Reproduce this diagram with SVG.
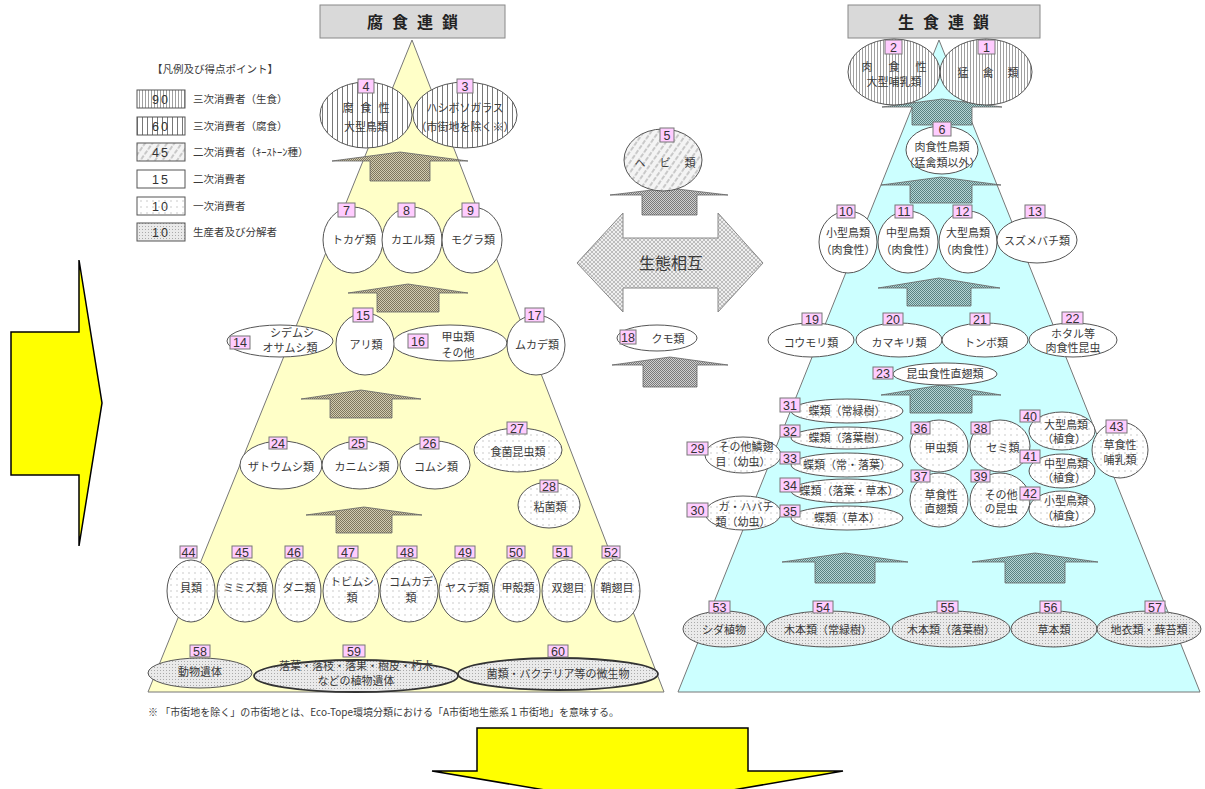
<svg xmlns="http://www.w3.org/2000/svg" width="1205" height="789" viewBox="0 0 1205 789">
<style>
.t{font-family:"Noto Sans CJK JP","Noto Sans",sans-serif;font-size:11px;fill:#3a3a3a;text-anchor:middle}
.lg{font-family:"Noto Sans CJK JP","Noto Sans",sans-serif;font-size:10.5px;fill:#3a3a3a}
.n{font-family:"Liberation Sans",Arial,sans-serif;font-size:12.5px;fill:#333;text-anchor:middle}
.lb{fill:#ffccff;stroke:#777;stroke-width:1}
.e{stroke:#555;stroke-width:1}
.w{fill:#fff}
.dl{fill:url(#dotL)}
.dd{fill:url(#dotD)}
.ti{font-family:"Noto Sans CJK JP","Noto Sans",sans-serif;font-size:16px;font-weight:bold;fill:#222;text-anchor:middle;letter-spacing:9px}
.ua{stroke:#666;stroke-width:0.8}
</style>
<defs>
<pattern id="vs1" width="5" height="5" patternUnits="userSpaceOnUse"><rect width="5" height="5" fill="#fff"/><line x1="2.5" y1="0" x2="2.5" y2="5" stroke="#555" stroke-width="0.8"/></pattern>
<pattern id="vs2" width="3" height="3" patternUnits="userSpaceOnUse"><rect width="3" height="3" fill="#fff"/><line x1="1.5" y1="0" x2="1.5" y2="3" stroke="#777" stroke-width="0.7"/></pattern>
<pattern id="diag" width="6" height="6" patternUnits="userSpaceOnUse" patternTransform="rotate(-55)"><rect width="6" height="6" fill="#f4f4f4"/><line x1="0" y1="3" x2="6" y2="3" stroke="#888" stroke-width="0.8" stroke-dasharray="3,1.5"/></pattern>
<pattern id="dotL" width="6" height="6" patternUnits="userSpaceOnUse"><rect width="6" height="6" fill="#fff"/><rect x="2.5" y="2.5" width="1" height="1" fill="#999"/></pattern>
<pattern id="dotD" width="3" height="3" patternUnits="userSpaceOnUse"><rect width="3" height="3" fill="#eaeaea"/><rect x="1" y="1" width="1" height="1" fill="#aaa"/></pattern>
<pattern id="chkL" width="2" height="2" patternUnits="userSpaceOnUse"><rect width="2" height="2" fill="#d2cbb0"/><rect width="1" height="1" fill="#7e775e"/><rect x="1" y="1" width="1" height="1" fill="#7e775e"/></pattern>
<pattern id="chkR" width="2" height="2" patternUnits="userSpaceOnUse"><rect width="2" height="2" fill="#b5d5d5"/><rect width="1" height="1" fill="#5a8282"/><rect x="1" y="1" width="1" height="1" fill="#5a8282"/></pattern>
<pattern id="chkC" width="2" height="2" patternUnits="userSpaceOnUse"><rect width="2" height="2" fill="#d0d0d0"/><rect width="1" height="1" fill="#7a7a7a"/><rect x="1" y="1" width="1" height="1" fill="#7a7a7a"/></pattern>
<pattern id="chkB" width="4" height="4" patternUnits="userSpaceOnUse"><rect width="4" height="4" fill="#efefef"/><path d="M0,0 L4,4 M4,0 L0,4" stroke="#a8a8a8" stroke-width="0.7"/></pattern>
</defs>

<rect width="1205" height="789" fill="#fff"/>

<g id="pyramids">
<polygon points="412,40 148,692 664,692" fill="#ffffc8" stroke="#777" stroke-width="1"/>
<polygon points="939,40 678,692 1200,692" fill="#ccffff" stroke="#777" stroke-width="1"/>
</g>

<g id="title-left"><rect x="320" y="5" width="185" height="33" fill="#d9d9d9" stroke="#888"/><text x="417" y="28" class="ti">腐食連鎖</text></g>
<g id="title-right"><rect x="848" y="5" width="192" height="33" fill="#d9d9d9" stroke="#888"/><text x="948" y="28" class="ti">生食連鎖</text></g>

<g id="legend">
<text x="152" y="73" class="lg">【凡例及び得点ポイント】</text>
<rect x="137" y="90" width="48" height="18" fill="url(#vs2)" stroke="#555"/><text x="161" y="104" class="n" letter-spacing="2">90</text><text x="193" y="103" class="lg">三次消費者（生食）</text>
<rect x="137" y="117" width="48" height="18" fill="url(#vs1)" stroke="#555"/><text x="161" y="131" class="n" letter-spacing="2">60</text><text x="193" y="130" class="lg">三次消費者（腐食）</text>
<rect x="137" y="143" width="48" height="18" fill="url(#diag)" stroke="#555"/><text x="161" y="157" class="n" letter-spacing="2">45</text><text x="193" y="156" class="lg">二次消費者（ｷｰｽﾄｰﾝ種）</text>
<rect x="137" y="170" width="48" height="18" fill="#fff" stroke="#555"/><text x="161" y="184" class="n" letter-spacing="2">15</text><text x="193" y="183" class="lg">二次消費者</text>
<rect x="137" y="197" width="48" height="18" fill="url(#dotL)" stroke="#555"/><text x="161" y="211" class="n" letter-spacing="2">10</text><text x="193" y="210" class="lg">一次消費者</text>
<rect x="137" y="223" width="48" height="18" fill="url(#dotD)" stroke="#555"/><text x="161" y="237" class="n" letter-spacing="2">10</text><text x="193" y="236" class="lg">生産者及び分解者</text>
</g>

<g id="connectors">
<path class="ua" fill="url(#chkL)" d="M332,161 L400,152 L468,161 L430,161 L430,181 L370,181 L370,161 Z"/>
<path class="ua" fill="url(#chkL)" d="M348,293 L408,284 L468,293 L439,293 L439,312 L377,312 L377,293 Z"/>
<path class="ua" fill="url(#chkL)" d="M301,399 L361,390 L421,399 L392,399 L392,418 L330,418 L330,399 Z"/>
<path class="ua" fill="url(#chkL)" d="M306,515 L364,507 L422,515 L392,515 L392,533 L336,533 L336,515 Z"/>
<path class="ua" fill="url(#chkC)" d="M610,195 L669,188 L728,195 L697,195 L697,215 L642,215 L642,195 Z"/>
<path class="ua" fill="url(#chkC)" d="M612,365 L670,357 L728,365 L697,365 L697,387 L643,387 L643,365 Z"/>
<path class="ua" fill="url(#chkR)" d="M882,107 L942,99 L1002,107 L972,107 L972,125 L912,125 L912,107 Z"/>
<path class="ua" fill="url(#chkR)" d="M881,185 L941,177 L1001,185 L972,185 L972,203 L910,203 L910,185 Z"/>
<path class="ua" fill="url(#chkR)" d="M878,288 L939,278 L1000,288 L971,288 L971,306 L907,306 L907,288 Z"/>
<path class="ua" fill="url(#chkR)" d="M881,395 L941,385 L1001,395 L972,395 L972,413 L910,413 L910,395 Z"/>
<path class="ua" fill="url(#chkR)" d="M782,562 L845,553 L908,562 L875,562 L875,583 L815,583 L815,562 Z"/>
<path class="ua" fill="url(#chkR)" d="M972,562 L1035,553 L1098,562 L1065,562 L1065,583 L1005,583 L1005,562 Z"/>
<g id="mutual">
<path d="M577,263 L623,213 L623,238 L718,238 L718,213 L763,263 L718,312 L718,288 L623,288 L623,312 Z" fill="url(#chkB)" stroke="#888" stroke-width="1"/>
<text x="671" y="269" class="t" style="font-size:16px">生態相互</text>
</g>
</g>

<g id="n4"><ellipse cx="366" cy="115" rx="46" ry="33" class="e" fill="url(#vs1)"/><rect x="358" y="79" width="16" height="14" class="lb"/><text x="366" y="90.5" class="n">4</text><text x="369.5" y="112" class="t" letter-spacing="7">腐食性</text><text x="366" y="131" class="t">大型鳥類</text></g>
<g id="n3"><ellipse cx="465" cy="115" rx="52" ry="33" class="e" fill="url(#vs1)"/><rect x="457" y="79" width="16" height="14" class="lb"/><text x="465" y="90.5" class="n">3</text><text x="465" y="112" class="t">ハシボソガラス</text><text x="465" y="131" class="t">（市街地を除く※）</text></g>
<g id="n2"><ellipse cx="894" cy="72" rx="46" ry="33" class="e" fill="url(#vs2)"/><rect x="885" y="40" width="17" height="14" class="lb"/><text x="893.5" y="51.5" class="n">2</text><text x="902" y="71" class="t" letter-spacing="16">肉食性</text><text x="894" y="86" class="t">大型哺乳類</text></g>
<g id="n1"><ellipse cx="986" cy="72" rx="46" ry="33" class="e" fill="url(#vs2)"/><rect x="978" y="40" width="17" height="14" class="lb"/><text x="986.5" y="51.5" class="n">1</text><text x="995" y="77" class="t" letter-spacing="14">猛禽類</text></g>
<g id="n5"><ellipse cx="663" cy="160" rx="39" ry="31" class="e" fill="url(#diag)"/><rect x="660" y="128" width="14" height="14" class="lb"/><text x="667" y="139.5" class="n">5</text><text x="672" y="167" class="t" letter-spacing="14">ヘビ類</text></g>
<g id="n6"><ellipse cx="942" cy="150" rx="36" ry="24" class="e w"/><rect x="933" y="122" width="18" height="14" class="lb"/><text x="942" y="133.5" class="n">6</text><text x="942" y="151" class="t">肉食性鳥類</text><text x="942" y="167" class="t">（猛禽類以外）</text></g>

<g id="n7"><ellipse cx="353" cy="240" rx="30" ry="33" class="e w"/><rect x="338" y="203" width="17" height="14" class="lb"/><text x="346.5" y="214.5" class="n">7</text><text x="354" y="244" class="t">トカゲ類</text></g>
<g id="n8"><ellipse cx="412" cy="240" rx="30" ry="33" class="e w"/><rect x="398" y="203" width="17" height="14" class="lb"/><text x="406.5" y="214.5" class="n">8</text><text x="413" y="244" class="t">カエル類</text></g>
<g id="n9"><ellipse cx="472" cy="240" rx="30" ry="33" class="e w"/><rect x="462" y="203" width="17" height="14" class="lb"/><text x="470.5" y="214.5" class="n">9</text><text x="473" y="244" class="t">モグラ類</text></g>

<g id="n14"><ellipse cx="280" cy="341" rx="53" ry="16" class="e w"/><rect x="230" y="336" width="20" height="13" class="lb"/><text x="240" y="347" class="n">14</text><text x="292" y="337" class="t">シデムシ</text><text x="290" y="352" class="t">オサムシ類</text></g>
<g id="n16"><ellipse cx="450" cy="343" rx="57" ry="18" class="e w"/><rect x="408" y="334" width="20" height="14" class="lb"/><text x="418" y="345.5" class="n">16</text><text x="458" y="341" class="t">甲虫類</text><text x="458" y="357" class="t">その他</text></g>
<g id="n15"><ellipse cx="365" cy="344" rx="29" ry="31" class="e w"/><rect x="353" y="308" width="20" height="14" class="lb"/><text x="363" y="319.5" class="n">15</text><text x="366" y="349" class="t">アリ類</text></g>
<g id="n17"><ellipse cx="536" cy="345" rx="29" ry="30" class="e w"/><rect x="525" y="308" width="19" height="14" class="lb"/><text x="534.5" y="319.5" class="n">17</text><text x="537" y="349" class="t">ムカデ類</text></g>

<g id="n18"><ellipse cx="657" cy="338" rx="40" ry="13" class="e w"/><rect x="620" y="330" width="16" height="14" class="lb"/><text x="628" y="341.5" class="n">18</text><text x="668" y="343" class="t">クモ類</text></g>

<g id="n24"><ellipse cx="281" cy="465" rx="41" ry="24" class="e w"/><rect x="269" y="437" width="18" height="12" class="lb"/><text x="278" y="447.5" class="n">24</text><text x="281" y="471" class="t">ザトウムシ類</text></g>
<g id="n25"><ellipse cx="360" cy="465" rx="38" ry="24" class="e w"/><rect x="349" y="437" width="18" height="12" class="lb"/><text x="358" y="447.5" class="n">25</text><text x="362" y="471" class="t">カニムシ類</text></g>
<g id="n26"><ellipse cx="435" cy="465" rx="35" ry="24" class="e w"/><rect x="420" y="437" width="19" height="12" class="lb"/><text x="429.5" y="447.5" class="n">26</text><text x="436" y="471" class="t">コムシ類</text></g>
<g id="n27"><ellipse cx="518" cy="450" rx="44" ry="22" class="e dl"/><rect x="507" y="422" width="20" height="12" class="lb"/><text x="517" y="432.5" class="n">27</text><text x="518" y="456" class="t">食菌昆虫類</text></g>
<g id="n28"><ellipse cx="549" cy="505" rx="31" ry="23" class="e dl"/><rect x="540" y="480" width="18" height="12" class="lb"/><text x="549" y="490.5" class="n">28</text><text x="550" y="511" class="t">粘菌類</text></g>

<g id="n10"><ellipse cx="848" cy="242" rx="29" ry="31" class="e w"/><rect x="837" y="205" width="18" height="13" class="lb"/><text x="846" y="216" class="n">10</text><text x="848" y="237" class="t">小型鳥類</text><text x="848" y="254" class="t">（肉食性）</text></g>
<g id="n11"><ellipse cx="908" cy="242" rx="30" ry="31" class="e w"/><rect x="895" y="205" width="18" height="13" class="lb"/><text x="904" y="216" class="n">11</text><text x="908" y="237" class="t">中型鳥類</text><text x="908" y="254" class="t">（肉食性）</text></g>
<g id="n12"><ellipse cx="968" cy="242" rx="29" ry="31" class="e w"/><rect x="953" y="205" width="19" height="13" class="lb"/><text x="962.5" y="216" class="n">12</text><text x="968" y="237" class="t">大型鳥類</text><text x="968" y="254" class="t">（肉食性）</text></g>
<g id="n13"><ellipse cx="1037" cy="240" rx="40" ry="23" class="e w"/><rect x="1025" y="205" width="20" height="13" class="lb"/><text x="1035" y="216" class="n">13</text><text x="1037" y="245" class="t">スズメバチ類</text></g>

<g id="n19"><ellipse cx="811" cy="340" rx="43" ry="17" class="e w"/><rect x="802" y="313" width="20" height="12" class="lb"/><text x="812" y="323.5" class="n">19</text><text x="811" y="347" class="t">コウモリ類</text></g>
<g id="n20"><ellipse cx="899" cy="340" rx="43" ry="17" class="e w"/><rect x="883" y="313" width="20" height="12" class="lb"/><text x="893" y="323.5" class="n">20</text><text x="899" y="347" class="t">カマキリ類</text></g>
<g id="n21"><ellipse cx="985" cy="340" rx="43" ry="17" class="e w"/><rect x="970" y="313" width="20" height="12" class="lb"/><text x="980" y="323.5" class="n">21</text><text x="986" y="347" class="t">トンボ類</text></g>
<g id="n22"><ellipse cx="1073" cy="340" rx="44" ry="17" class="e w"/><rect x="1062" y="312" width="21" height="12" class="lb"/><text x="1072.5" y="322.5" class="n">22</text><text x="1073" y="338" class="t">ホタル等</text><text x="1073" y="352" class="t">肉食性昆虫</text></g>
<g id="n23"><ellipse cx="945" cy="374" rx="52" ry="11" class="e w"/><rect x="873" y="367" width="20" height="12" class="lb"/><text x="883" y="377.5" class="n">23</text><text x="945" y="378" class="t">昆虫食性直翅類</text></g>

<g id="n29"><ellipse cx="743" cy="455" rx="38" ry="18" class="e dl"/><rect x="687" y="442" width="21" height="13" class="lb"/><text x="697.5" y="453" class="n">29</text><text x="746" y="451" class="t">その他鱗翅</text><text x="743" y="466" class="t">目（幼虫）</text></g>
<g id="n30"><ellipse cx="743" cy="513" rx="38" ry="17" class="e dl"/><rect x="687" y="503" width="21" height="14" class="lb"/><text x="697.5" y="514.5" class="n">30</text><text x="746" y="511" class="t">ガ・ハバチ</text><text x="743" y="526" class="t">類（幼虫）</text></g>
<g id="n31"><ellipse cx="847" cy="411" rx="56" ry="12" class="e dl"/><rect x="780" y="398" width="20" height="14" class="lb"/><text x="790" y="409.5" class="n">31</text><text x="847" y="415" class="t">蝶類（常緑樹）</text></g>
<g id="n32"><ellipse cx="847" cy="438" rx="56" ry="11" class="e dl"/><rect x="780" y="425" width="20" height="12" class="lb"/><text x="790" y="435.5" class="n">32</text><text x="847" y="442" class="t">蝶類（落葉樹）</text></g>
<g id="n33"><ellipse cx="847" cy="465" rx="56" ry="12" class="e dl"/><rect x="780" y="452" width="20" height="12" class="lb"/><text x="790" y="462.5" class="n">33</text><text x="847" y="469" class="t">蝶類（常・落葉）</text></g>
<g id="n34"><ellipse cx="847" cy="491" rx="56" ry="12" class="e dl"/><rect x="780" y="478" width="20" height="14" class="lb"/><text x="790" y="489.5" class="n">34</text><text x="849" y="495" class="t">蝶類（落葉・草本）</text></g>
<g id="n35"><ellipse cx="847" cy="518" rx="56" ry="12" class="e dl"/><rect x="780" y="505" width="20" height="12" class="lb"/><text x="790" y="515.5" class="n">35</text><text x="847" y="522" class="t">蝶類（草本）</text></g>
<g id="n36"><ellipse cx="939" cy="446" rx="29" ry="26" class="e dl"/><rect x="911" y="422" width="19" height="12" class="lb"/><text x="920.5" y="432.5" class="n">36</text><text x="941" y="452" class="t">甲虫類</text></g>
<g id="n37"><ellipse cx="939" cy="500" rx="29" ry="27" class="e dl"/><rect x="911" y="470" width="19" height="12" class="lb"/><text x="920.5" y="480.5" class="n">37</text><text x="941" y="499" class="t">草食性</text><text x="941" y="513" class="t">直翅類</text></g>
<g id="n38"><ellipse cx="1000" cy="446" rx="30" ry="26" class="e dl"/><rect x="971" y="422" width="19" height="12" class="lb"/><text x="980.5" y="432.5" class="n">38</text><text x="1003" y="452" class="t">セミ類</text></g>
<g id="n39"><ellipse cx="1000" cy="500" rx="30" ry="27" class="e dl"/><rect x="971" y="470" width="19" height="12" class="lb"/><text x="980.5" y="480.5" class="n">39</text><text x="1001" y="499" class="t">その他</text><text x="1001" y="513" class="t">の昆虫</text></g>
<g id="n43"><ellipse cx="1120" cy="450" rx="28" ry="28" class="e dl"/><rect x="1106" y="420" width="21" height="13" class="lb"/><text x="1116.5" y="431" class="n">43</text><text x="1120" y="449" class="t">草食性</text><text x="1120" y="464" class="t">哺乳類</text></g>
<g id="n40"><ellipse cx="1062" cy="431" rx="33" ry="19" class="e dl"/><rect x="1020" y="410" width="20" height="12" class="lb"/><text x="1066" y="429" class="t">大型鳥類</text><text x="1064" y="443" class="t">（植食）</text><text x="1030" y="420.5" class="n">40</text></g>
<g id="n41"><ellipse cx="1062" cy="471" rx="33" ry="17" class="e dl"/><rect x="1020" y="450" width="20" height="13" class="lb"/><text x="1030" y="461" class="n">41</text><text x="1066" y="468" class="t">中型鳥類</text><text x="1064" y="482" class="t">（植食）</text></g>
<g id="n42"><ellipse cx="1062" cy="509" rx="33" ry="18" class="e dl"/><rect x="1020" y="487" width="20" height="13" class="lb"/><text x="1030" y="498" class="n">42</text><text x="1066" y="505" class="t">小型鳥類</text><text x="1064" y="520" class="t">（植食）</text></g>

<g id="n44"><ellipse cx="191" cy="591" rx="24" ry="31" class="e dl"/><rect x="180" y="546" width="17" height="12" class="lb"/><text x="188.5" y="556.5" class="n">44</text><text x="191" y="592" class="t">貝類</text></g>
<g id="n45"><ellipse cx="245" cy="591" rx="28" ry="31" class="e dl"/><rect x="232" y="546" width="20" height="12" class="lb"/><text x="242" y="556.5" class="n">45</text><text x="245" y="592" class="t">ミミズ類</text></g>
<g id="n46"><ellipse cx="298" cy="591" rx="23" ry="31" class="e dl"/><rect x="285" y="546" width="18" height="12" class="lb"/><text x="294" y="556.5" class="n">46</text><text x="299" y="592" class="t">ダニ類</text></g>
<g id="n47"><ellipse cx="351" cy="591" rx="28" ry="31" class="e dl"/><rect x="338" y="546" width="20" height="12" class="lb"/><text x="348" y="556.5" class="n">47</text><text x="352" y="586" class="t">トビムシ</text><text x="352" y="602" class="t">類</text></g>
<g id="n48"><ellipse cx="409" cy="591" rx="29" ry="31" class="e dl"/><rect x="397" y="546" width="20" height="12" class="lb"/><text x="407" y="556.5" class="n">48</text><text x="411" y="586" class="t">コムカデ</text><text x="411" y="602" class="t">類</text></g>
<g id="n49"><ellipse cx="466" cy="591" rx="27" ry="31" class="e dl"/><rect x="455" y="546" width="20" height="12" class="lb"/><text x="465" y="556.5" class="n">49</text><text x="467" y="592" class="t">ヤスデ類</text></g>
<g id="n50"><ellipse cx="517" cy="591" rx="23" ry="31" class="e dl"/><rect x="507" y="546" width="18" height="12" class="lb"/><text x="516" y="556.5" class="n">50</text><text x="518" y="592" class="t">甲殻類</text></g>
<g id="n51"><ellipse cx="567" cy="591" rx="25" ry="31" class="e dl"/><rect x="553" y="546" width="19" height="12" class="lb"/><text x="562.5" y="556.5" class="n">51</text><text x="568" y="592" class="t">双翅目</text></g>
<g id="n52"><ellipse cx="617" cy="591" rx="23" ry="31" class="e dl"/><rect x="602" y="546" width="18" height="12" class="lb"/><text x="611" y="556.5" class="n">52</text><text x="617" y="592" class="t">鞘翅目</text></g>

<g id="n58"><ellipse cx="200" cy="673" rx="52" ry="15" class="e dd"/><rect x="190" y="645" width="20" height="12" class="lb"/><text x="200" y="655.5" class="n">58</text><text x="200" y="676" class="t">動物遺体</text></g>
<g id="n59"><ellipse cx="356" cy="676" rx="102" ry="16" class="dd" stroke="#333" stroke-width="1.8"/><rect x="343" y="645" width="22" height="12" class="lb"/><text x="354" y="655.5" class="n">59</text><text x="356" y="670" class="t">落葉・落枝・落果・樹皮・朽木</text><text x="356" y="685" class="t">などの植物遺体</text></g>
<g id="n60"><ellipse cx="558" cy="674" rx="100" ry="16" class="dd" stroke="#333" stroke-width="1.8"/><rect x="548" y="645" width="20" height="12" class="lb"/><text x="558" y="655.5" class="n">60</text><text x="558" y="678" class="t">菌類・バクテリア等の微生物</text></g>

<g id="n53"><ellipse cx="724" cy="629" rx="41" ry="18" class="e dd"/><rect x="709" y="601" width="21" height="12" class="lb"/><text x="719.5" y="611.5" class="n">53</text><text x="724" y="634" class="t">シダ植物</text></g>
<g id="n54"><ellipse cx="828" cy="629" rx="62" ry="18" class="e dd"/><rect x="813" y="601" width="20" height="12" class="lb"/><text x="823" y="611.5" class="n">54</text><text x="828" y="634" class="t">木本類（常緑樹）</text></g>
<g id="n55"><ellipse cx="951" cy="629" rx="59" ry="18" class="e dd"/><rect x="937" y="601" width="21" height="12" class="lb"/><text x="947.5" y="611.5" class="n">55</text><text x="951" y="634" class="t">木本類（落葉樹）</text></g>
<g id="n56"><ellipse cx="1054" cy="629" rx="43" ry="18" class="e dd"/><rect x="1040" y="601" width="21" height="12" class="lb"/><text x="1050.5" y="611.5" class="n">56</text><text x="1054" y="634" class="t">草本類</text></g>
<g id="n57"><ellipse cx="1149" cy="629" rx="52" ry="18" class="e dd"/><rect x="1145" y="601" width="20" height="12" class="lb"/><text x="1155" y="611.5" class="n">57</text><text x="1149" y="634" class="t">地衣類・蘚苔類</text></g>

<g id="footnote"><text x="148" y="716" class="lg" style="font-size:10px">※ 「市街地を除く」の市街地とは、Eco-Tope環境分類における「A市街地生態系１市街地」を意味する。</text></g>

<g id="arrow-left"><polygon points="11,332 79,332 79,260 102,403 79,546 79,475 11,475" fill="#ffff00" stroke="#000" stroke-width="1.5"/></g>
<g id="arrow-down"><polygon points="477,728 748,728 748,771 843,771 640,806 432,771 477,771" fill="#ffff00" stroke="#000" stroke-width="1.5"/></g>
</svg>
